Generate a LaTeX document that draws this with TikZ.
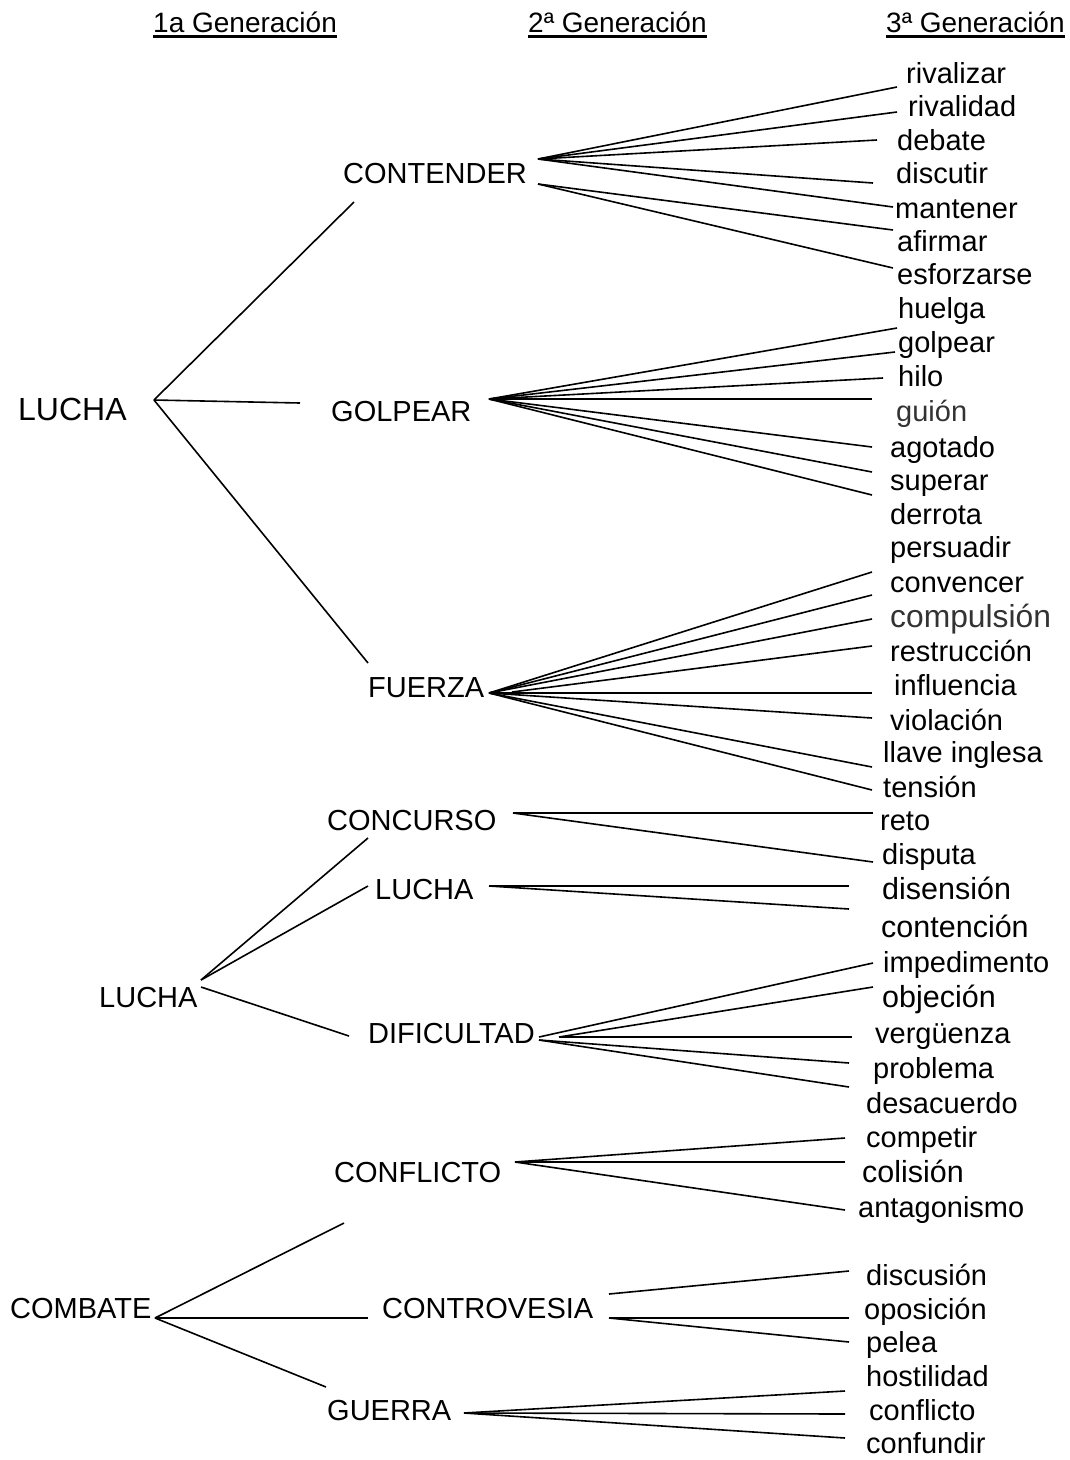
\documentclass[tikz,border=0pt]{standalone}
\usepackage{fontspec}
\setmainfont{Liberation Sans}
\usetikzlibrary{calc}
\definecolor{softgray}{HTML}{333333}

\tikzset{
    word/.style={anchor=base west, inner sep=0pt, font=\fontsize{29}{34}\selectfont},
    bigword/.style={word, font=\fontsize{30.5}{36}\selectfont},
    softword/.style={word, text=softgray},
    bigsoft/.style={word, text=softgray, font=\fontsize{31.8}{37}\selectfont},
    header/.style={anchor=base west, inner sep=0pt, font=\fontsize{28}{34}\selectfont},
    branch/.style={line width=1.6pt},
    rule/.style={line width=2.6pt},
}

\begin{document}
\begin{tikzpicture}[x=1pt,y=-1pt]
    \useasboundingbox (0,0) rectangle (1069,1460);
    % column headers
    \foreach[count=\i] \hx/\htext in {153/1a Generación,528/2ª Generación,886/3ª Generación} {
        \node[header] (h-\i) at (\hx,32) {\htext};
        \draw[rule] ($(h-\i.base west)+(0,4.5)$) -- ($(h-\i.base east)+(0,4.5)$);
    }
    % first generation
    \node[word, font=\fontsize{32}{38}\selectfont] (g1-A) at (18,420) {LUCHA};
    \node[word] (g1-B) at (99,1007) {LUCHA};
    \node[word] (g1-C) at (10,1318) {COMBATE};
    % second generation
    \foreach \gname/\gx/\gy/\gtext in {cont/343/183/CONTENDER,golp/331/421/GOLPEAR,
        fuer/368/697/FUERZA,conc/327/830/CONCURSO,luch/375/899/LUCHA,
        difi/368/1043/DIFICULTAD,conf/334/1182/CONFLICTO,ctrv/382/1318/CONTROVESIA,
        guer/327/1420/GUERRA}
        \node[word] (g2-\gname) at (\gx,\gy) {\gtext};
    % third generation
    \foreach[count=\j] \wx/\wy/\wtext/\wstyle in {
        906/83/rivalizar/word,908/116/rivalidad/word,897/150/debate/word,
        896/183/discutir/word,895/218/mantener/word,897/251/afirmar/word,
        897/284/esforzarse/word,898/318/huelga/word,898/352/golpear/word,
        898/386/hilo/word,896/421/guión/softword,890/457/agotado/word,
        890/490/superar/word,890/524/derrota/word,890/557/persuadir/word,
        890/592/convencer/word,890/627/compulsión/bigsoft,890/661/restrucción/word,
        894/695/influencia/word,890/730/violación/word,883/762/llave inglesa/word,
        883/797/tensión/word,880/830/reto/word,882/864/disputa/word,
        882/899/disensión/bigword,881/937/contención/bigword,883/972/impedimento/word,
        882/1007/objeción/bigword,875/1043/vergüenza/word,873/1078/problema/word,
        866/1113/desacuerdo/word,866/1147/competir/word,862/1182/colisión/bigword,
        858/1217/antagonismo/word,866/1285/discusión/word,864/1319/oposición/word,
        866/1352/pelea/word,866/1386/hostilidad/word,869/1420/conflicto/word,
        866/1453/confundir/word}
        \node[\wstyle] (w-\j) at (\wx,\wy) {\wtext};

    % LUCHA -> CONTENDER, GOLPEAR, FUERZA
    \coordinate (a-A) at (154,400);
    \foreach[count=\k] \ex/\ey in {354/202,300/403,368/663} {
        \coordinate (a-A-\k) at (\ex,\ey);
        \draw[branch] (a-A) -- (a-A-\k);
    }
    % LUCHA -> CONCURSO, LUCHA, DIFICULTAD
    \coordinate (a-B) at (201,980);
    \coordinate (a-Bl) at (201,987);
    \foreach[count=\k] \ex/\ey in {368/838,368/886} {
        \coordinate (a-B-\k) at (\ex,\ey);
        \draw[branch] (a-B) -- (a-B-\k);
    }
    \coordinate (a-Bl-1) at (349,1036);
    \draw[branch] (a-Bl) -- (a-Bl-1);
    % COMBATE -> CONFLICTO, CONTROVESIA, GUERRA
    \coordinate (a-C) at (155,1318);
    \foreach[count=\k] \ex/\ey in {344/1223,368/1318,326/1387} {
        \coordinate (a-C-\k) at (\ex,\ey);
        \draw[branch] (a-C) -- (a-C-\k);
    }

    % CONTENDER
    \coordinate (b-cont) at (538,159);
    \coordinate (b-contl) at (538,184);
    \foreach[count=\k] \ex/\ey in {897/87,897/112,877/140,873/183,893/207} {
        \coordinate (b-cont-\k) at (\ex,\ey);
        \draw[branch] (b-cont) -- (b-cont-\k);
    }
    \foreach[count=\k] \ex/\ey in {893/230,893/268} {
        \coordinate (b-contl-\k) at (\ex,\ey);
        \draw[branch] (b-contl) -- (b-contl-\k);
    }
    % GOLPEAR
    \coordinate (b-golp) at (489,399);
    \foreach[count=\k] \ex/\ey in {897/328,895/352,883/378,872/399,872/447,872/472,872/495} {
        \coordinate (b-golp-\k) at (\ex,\ey);
        \draw[branch] (b-golp) -- (b-golp-\k);
    }
    % FUERZA
    \coordinate (b-fuer) at (489,693);
    \coordinate (b-fuerr) at (512,692);
    \foreach[count=\k] \ex/\ey in {872/572,872/595,872/619,872/693,872/718,872/767,872/790} {
        \coordinate (b-fuer-\k) at (\ex,\ey);
        \draw[branch] (b-fuer) -- (b-fuer-\k);
    }
    \coordinate (b-fuerr-1) at (872,646);
    \draw[branch] (b-fuerr) -- (b-fuerr-1);
    % CONCURSO
    \coordinate (b-conc) at (513,813);
    \foreach[count=\k] \ex/\ey in {873/813,873/862} {
        \coordinate (b-conc-\k) at (\ex,\ey);
        \draw[branch] (b-conc) -- (b-conc-\k);
    }
    % LUCHA
    \coordinate (b-luch) at (489,886);
    \foreach[count=\k] \ex/\ey in {849/886,849/909} {
        \coordinate (b-luch-\k) at (\ex,\ey);
        \draw[branch] (b-luch) -- (b-luch-\k);
    }
    % DIFICULTAD
    \coordinate (b-difi) at (539,1037);
    \coordinate (b-difir) at (559,1037);
    \coordinate (b-difil) at (539,1040);
    \coordinate (b-difi-1) at (873,963);
    \draw[branch] (b-difi) -- (b-difi-1);
    \foreach[count=\k] \ex/\ey in {873/987,852/1037} {
        \coordinate (b-difir-\k) at (\ex,\ey);
        \draw[branch] (b-difir) -- (b-difir-\k);
    }
    \foreach[count=\k] \ex/\ey in {849/1063,849/1087} {
        \coordinate (b-difil-\k) at (\ex,\ey);
        \draw[branch] (b-difil) -- (b-difil-\k);
    }
    % CONFLICTO
    \coordinate (b-conf) at (515,1162);
    \foreach[count=\k] \ex/\ey in {845/1138,845/1162,845/1210} {
        \coordinate (b-conf-\k) at (\ex,\ey);
        \draw[branch] (b-conf) -- (b-conf-\k);
    }
    % CONTROVESIA
    \coordinate (b-ctrvt) at (609,1294);
    \coordinate (b-ctrv) at (609,1318);
    \coordinate (b-ctrvt-1) at (849,1271);
    \draw[branch] (b-ctrvt) -- (b-ctrvt-1);
    \foreach[count=\k] \ex/\ey in {849/1318,849/1342} {
        \coordinate (b-ctrv-\k) at (\ex,\ey);
        \draw[branch] (b-ctrv) -- (b-ctrv-\k);
    }
    % GUERRA
    \coordinate (b-guer) at (464,1413);
    \foreach[count=\k] \ex/\ey in {845/1391,845/1414,845/1438} {
        \coordinate (b-guer-\k) at (\ex,\ey);
        \draw[branch] (b-guer) -- (b-guer-\k);
    }
\end{tikzpicture}
\end{document}
